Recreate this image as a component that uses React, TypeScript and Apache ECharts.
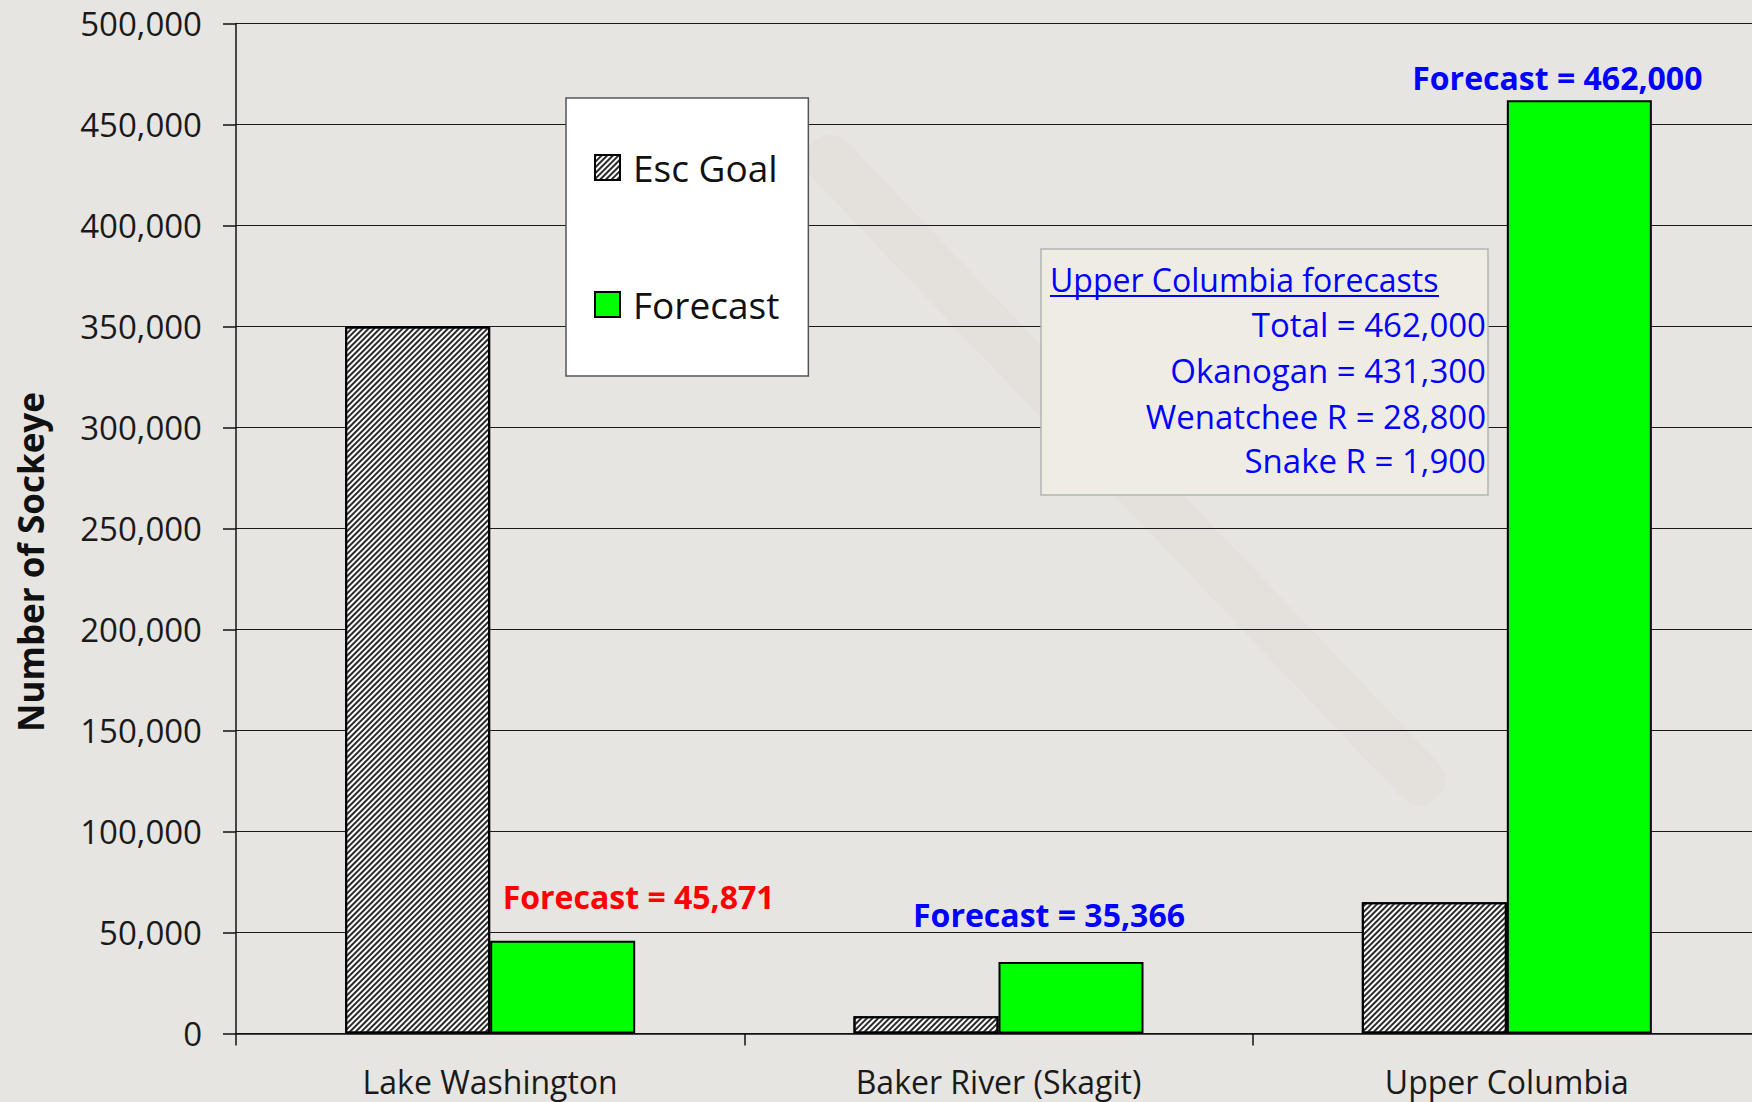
import React, { useEffect, useRef } from "react";
import * as echarts from "echarts";

const categories = ["Lake Washington", "Baker River (Skagit)", "Upper Columbia"];
const escGoal = [350000, 8500, 65000];
const forecast = [45871, 35366, 462000];
const forecastLabels = ["Forecast = 45,871", "Forecast = 35,366", "Forecast = 462,000"];
const seriesNames = ["Esc Goal", "Forecast"];
const yAxisName = "Number of Sockeye";
const boxTitle = "Upper Columbia forecasts";
const boxLines = ["Total = 462,000", "Okanogan = 431,300", "Wenatchee R = 28,800", "Snake R = 1,900"];

// styling (not data)
const labelColors = ["#ff0000", "#0000ff", "#0000ff"];
const labelOffsets = [[76, -23], [-22, -27], [-22, -2]];
const FONT = "'Open Sans', 'Noto Sans', sans-serif";

export default function App() {
  const ref = useRef<HTMLDivElement>(null);
  useEffect(() => {
    document.body.style.margin = "0";
    if (!ref.current) return;
    const chart = echarts.init(ref.current, null, { renderer: "svg" });
    const lineYs = [324, 370, 416, 460];
    chart.setOption({
      animation: false,
      backgroundColor: "#e7e5e2",
      textStyle: { fontFamily: FONT },
      grid: { left: 236, top: 23.5, right: 0, bottom: 68.5, containLabel: false },
      legend: {
        data: seriesNames,
        orient: "vertical",
        left: 566,
        top: 98,
        icon: "rect",
        itemWidth: 25,
        itemHeight: 25,
        itemGap: 100,
        padding: [51, 29, 53, 28],
        backgroundColor: "#ffffff",
        borderColor: "#555555",
        borderWidth: 1.5,
        textStyle: { fontSize: 37, color: "#111", fontFamily: FONT, padding: [0, 0, 0, 8] },
      },
      xAxis: {
        type: "category",
        data: categories,
        axisLine: { lineStyle: { color: "#111", width: 1.5 } },
        axisTick: { show: true, length: 12, lineStyle: { color: "#111", width: 1.5 } },
        axisLabel: { fontSize: 32, color: "#1a1a1a", margin: 32, fontFamily: FONT },
      },
      yAxis: {
        type: "value",
        min: 0,
        max: 500000,
        interval: 50000,
        axisLine: { show: true, lineStyle: { color: "#111", width: 1.5 } },
        axisTick: { show: true, length: 13, lineStyle: { color: "#111", width: 1.5 } },
        axisLabel: {
          fontSize: 33,
          color: "#1a1a1a",
          margin: 34,
          fontFamily: FONT,
          formatter: (v: number) => v.toLocaleString("en-US"),
        },
        splitLine: { show: true, lineStyle: { color: "#1a1a1a", width: 1.2 } },
      },
      series: [
        {
          name: seriesNames[0],
          type: "bar",
          data: escGoal,
          barWidth: 145,
          barGap: "0%",
          itemStyle: {
            color: "#ffffff",
            borderColor: "#000",
            borderWidth: 2,
            decal: {
              symbol: "rect",
              symbolSize: 1,
              dashArrayX: [1, 0],
              dashArrayY: [1.3, 1.7],
              rotation: -Math.PI / 4,
              color: "#2a2a2a",
            },
          },
        },
        {
          name: seriesNames[1],
          type: "bar",
          data: forecast.map((v, i) => ({
            value: v,
            label: {
              show: true,
              position: "top",
              formatter: forecastLabels[i],
              color: labelColors[i],
              offset: labelOffsets[i],
              fontSize: 32,
              fontWeight: "bold",
              fontFamily: FONT,
            },
          })),
          barWidth: 145,
          barGap: "0%",
          itemStyle: { color: "#00ff00", borderColor: "#000", borderWidth: 2 },
        },
      ],
      graphic: [
        {
          type: "line",
          silent: true,
          z: -1,
          shape: { x1: 830, y1: 160, x2: 1420, y2: 780 },
          style: { stroke: "rgba(190,90,80,0.04)", lineWidth: 50, lineCap: "round" },
        },
        {
          type: "text",
          x: 30,
          y: 562,
          rotation: Math.PI / 2,
          style: {
            text: yAxisName,
            fontSize: 35,
            fontWeight: "bold",
            fontFamily: FONT,
            fill: "#111",
            align: "center",
            verticalAlign: "middle",
          },
        },
        {
          type: "rect",
          shape: { x: 1041, y: 249, width: 447, height: 246 },
          style: { fill: "#eeece3", stroke: "#b4b4b4", lineWidth: 1.5 },
          z: 10,
        },
        {
          type: "text",
          x: 1050,
          y: 279,
          z: 11,
          style: {
            text: boxTitle,
            fontSize: 32,
            fontFamily: FONT,
            fill: "#0000ff",
            align: "left",
            verticalAlign: "middle",
          },
        },
        {
          type: "line",
          z: 11,
          shape: { x1: 1050, y1: 296, x2: 1439, y2: 296 },
          style: { stroke: "#0000ff", lineWidth: 2 },
        },
        ...boxLines.map((t, i) => ({
          type: "text",
          x: 1486,
          y: lineYs[i],
          z: 11,
          style: {
            text: t,
            fontSize: 33,
            fontFamily: FONT,
            fill: "#0000ff",
            align: "right",
            verticalAlign: "middle",
          },
        })),
      ],
    });
    return () => chart.dispose();
  }, []);
  return (
    <div style={{ width: 1752, height: 1102, overflow: "hidden", position: "relative" }}>
      <div ref={ref} style={{ width: 1761, height: 1102 }} />
    </div>
  );
}
